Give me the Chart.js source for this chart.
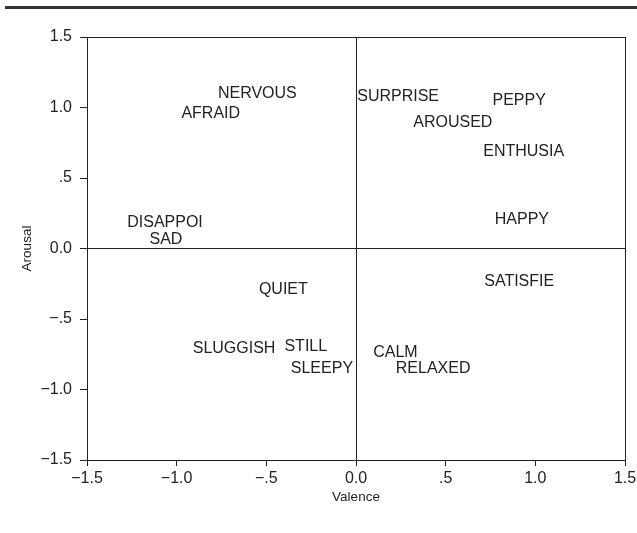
<!DOCTYPE html>
<html>
<head>
<meta charset="utf-8">
<script src="https://cdn.jsdelivr.net/npm/chart.js@4/dist/chart.umd.min.js"></script>
<style>
  body { margin: 0; background: #fff; }
  #wrap { position: relative; width: 637px; height: 533px; }
</style>
</head>
<body>
<div id="wrap"><canvas id="moodChart" width="637" height="533"></canvas></div>
<script>
// mood words placed by valence (x) and arousal (y)
let words = ["NERVOUS", "AFRAID", "DISAPPOI", "SAD", "SURPRISE", "PEPPY", "AROUSED", "ENTHUSIA",
  "HAPPY", "SATISFIE", "QUIET", "SLUGGISH", "STILL", "SLEEPY", "CALM", "RELAXED"];
let valence = [-0.55, -0.81, -1.065, -1.06, 0.235, 0.91, 0.54, 0.935,
  0.925, 0.91, -0.405, -0.68, -0.28, -0.19, 0.22, 0.43];
let arousal = [1.11, 0.965, 0.195, 0.07, 1.085, 1.06, 0.905, 0.695,
  0.215, -0.225, -0.28, -0.70, -0.685, -0.84, -0.73, -0.84];
let tickValues = [-1.5, -1.0, -0.5, 0, 0.5, 1.0, 1.5];
let tickLabels = ["\u22121.5", "\u22121.0", "\u2212.5", "0.0", ".5", "1.0", "1.5"];

let ink = "#222";
let fontFamily = "'Liberation Sans', Arial, sans-serif";

window.addEventListener("load", function () {
  let points = [];
  for (let i = 0; i < words.length; i++) {
    points.push({ x: valence[i], y: arousal[i] });
  }

  function tickText(value) {
    for (let i = 0; i < tickValues.length; i++) {
      if (Math.abs(tickValues[i] - value) < 1e-6) return tickLabels[i];
    }
    return "";
  }
  // only the frame edges and the zero lines are drawn
  function gridColor(c) {
    let v = c.tick.value;
    if (Math.abs(v) < 1e-6 || Math.abs(Math.abs(v) - 1.5) < 1e-6) return ink;
    return "transparent";
  }

  const wordLabels = {
    id: "wordLabels",
    beforeDraw(chart) {
      let c = chart.ctx;
      c.save();
      c.fillStyle = "#333";
      c.fillRect(5, 6, 632, 3);
      c.restore();
    },
    afterDatasetsDraw(chart) {
      let c = chart.ctx;
      let meta = chart.getDatasetMeta(0);
      c.save();
      c.font = "16px " + fontFamily;
      c.fillStyle = ink;
      c.textAlign = "center";
      c.textBaseline = "alphabetic";
      // point sits at the middle of the capitals
      meta.data.forEach(function (el, i) {
        c.fillText(words[i], el.x, el.y + 5.75);
      });
      c.restore();
    },
  };

  var ctx = document.getElementById("moodChart").getContext("2d");
  var moodChart = new Chart(ctx, {
    type: "scatter",
    data: {
      datasets: [
        {
          label: "Moods",
          data: points,
          pointRadius: 0,
          pointHoverRadius: 0,
        },
      ],
    },
    options: {
      responsive: false,
      animation: false,
      layout: { padding: { top: 37, right: 12, left: 0, bottom: 0 } },
      plugins: {
        legend: { display: false },
        tooltip: { enabled: false },
      },
      scales: {
        x: {
          type: "linear",
          min: -1.5,
          max: 1.5,
          afterFit: function (scale) {
            scale.height = 73;
            scale.paddingLeft = 0;
            scale.paddingRight = 0;
          },
          afterBuildTicks: function (scale) {
            scale.ticks = tickValues.map(function (v) { return { value: v }; });
          },
          ticks: {
            callback: tickText,
            color: ink,
            font: { size: 16, family: fontFamily },
            padding: 3,
            maxRotation: 0,
          },
          grid: { color: gridColor, tickColor: ink, tickLength: 6, lineWidth: 1 },
          border: { display: true, color: ink },
          title: {
            display: true,
            text: "Valence",
            color: ink,
            font: { size: 13.5, family: fontFamily },
            padding: { top: 0, bottom: 28 },
          },
        },
        y: {
          type: "linear",
          min: -1.5,
          max: 1.5,
          afterFit: function (scale) { scale.width = 87; },
          afterBuildTicks: function (scale) {
            scale.ticks = tickValues.map(function (v) { return { value: v }; });
          },
          ticks: {
            callback: tickText,
            color: ink,
            font: { size: 16, family: fontFamily },
            padding: 8,
          },
          grid: { color: gridColor, tickColor: ink, tickLength: 7, lineWidth: 1 },
          border: { display: true, color: ink },
          title: {
            display: true,
            text: "Arousal",
            color: ink,
            font: { size: 13.5, family: fontFamily },
            padding: { top: 19, bottom: 0 },
          },
        },
      },
    },
    plugins: [wordLabels],
  });
});
</script>
</body>
</html>
